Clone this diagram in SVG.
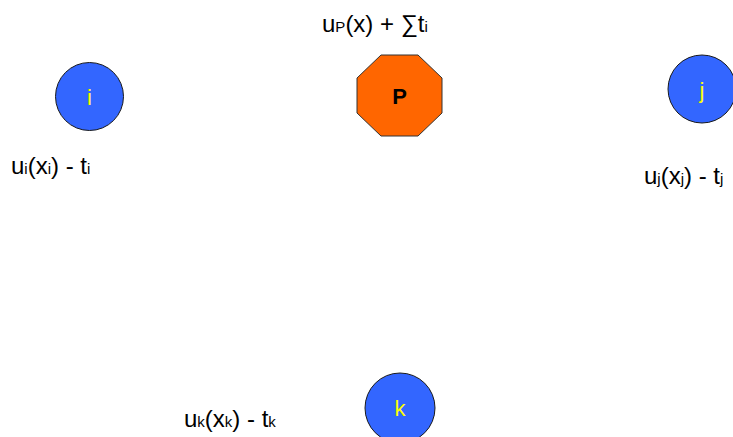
<svg xmlns="http://www.w3.org/2000/svg" width="733" height="437" viewBox="0 0 733 437">
<style>
.agent{fill:#3366ff;stroke:#1a1a1a;stroke-width:1}
.al{font-family:"Liberation Sans",Arial,sans-serif;font-size:22px;fill:#ffff00;text-anchor:middle}
.lbl{font-family:"Liberation Sans",Arial,sans-serif;font-size:24px;fill:#000}
.sub{font-size:15px}
</style>
<rect width="733" height="437" fill="#fff"/>
<g id="connectors"></g>
<g id="node-P">
<polygon points="381,55 418,55 442,78 442,113 418,136 381,136 357,113 357,78" fill="#ff6600" stroke="#333" stroke-width="1"/>
<text x="399.5" y="104" font-family="Liberation Sans,Arial,sans-serif" font-size="22" font-weight="bold" text-anchor="middle" fill="#000">P</text>
</g>
<g id="node-i">
<circle class="agent" cx="89.5" cy="96.5" r="34"/>
<text class="al" x="89.5" y="105">i</text>
</g>
<g id="node-j">
<circle class="agent" cx="702" cy="89" r="34"/>
<text class="al" x="702" y="98">j</text>
</g>
<g id="node-k">
<circle class="agent" cx="400" cy="408" r="35"/>
<text class="al" x="400" y="416">k</text>
</g>
<g id="labels">
<text class="lbl" x="322" y="32">u<tspan class="sub">P</tspan>(x) + ∑t<tspan class="sub">i</tspan></text>
<text class="lbl" x="11" y="174">u<tspan class="sub">i</tspan>(x<tspan class="sub">i</tspan>) - t<tspan class="sub">i</tspan></text>
<text class="lbl" x="644" y="184">u<tspan class="sub">j</tspan>(x<tspan class="sub">j</tspan>) - t<tspan class="sub">j</tspan></text>
<text class="lbl" x="184" y="427">u<tspan class="sub">k</tspan>(x<tspan class="sub">k</tspan>) - t<tspan class="sub">k</tspan></text>
</g>
</svg>
